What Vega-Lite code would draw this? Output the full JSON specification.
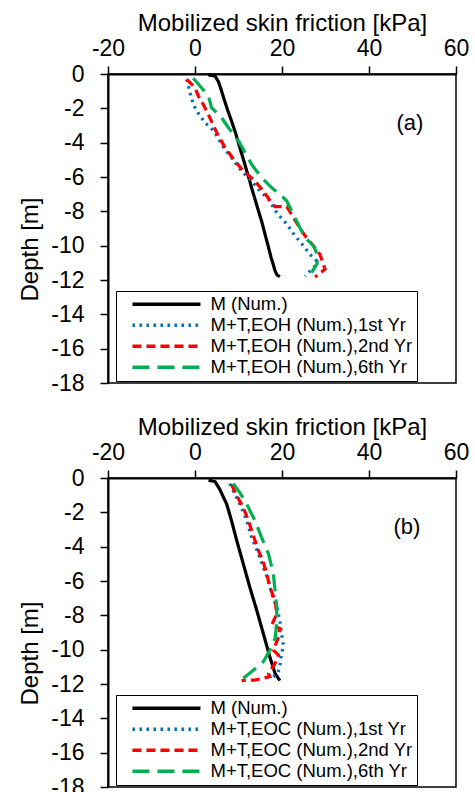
{
  "$schema": "https://vega.github.io/schema/vega-lite/v6.json",
  "padding": {"left": 18, "top": 10, "right": 5, "bottom": 0},
  "vconcat": [
    {
      "width": 348,
      "height": 309,
      "encoding": {
        "x": {"field": "x", "type": "quantitative", "scale": {"domain": [-20, 60], "nice": false, "zero": false},
          "axis": {"orient": "top", "values": [-20, 0, 20, 40, 60], "title": "Mobilized skin friction [kPa]", "tickSize": 8, "labelPadding": 6, "titlePadding": 2, "labelOverlap": false, "labelFlush": false, "grid": false, "labelExpr": "'' + datum.value"}},
        "y": {"field": "y", "type": "quantitative", "scale": {"domain": [-18, 0], "nice": false, "zero": false},
          "axis": {"orient": "left", "values": [-18, -16, -14, -12, -10, -8, -6, -4, -2, 0], "title": "Depth [m]", "titleY": 175, "tickSize": 8, "labelPadding": 16, "titlePadding": 8, "labelOverlap": false, "labelFlush": false, "grid": false, "labelExpr": "'' + datum.value"}}
      },
      "layer": [
        {
          "data": {"values": [{"x": -20}, {"x": -16}, {"x": -12}, {"x": -8}, {"x": -4}, {"x": 0}, {"x": 4}, {"x": 8}, {"x": 12}, {"x": 16}, {"x": 20}, {"x": 24}, {"x": 28}, {"x": 32}, {"x": 36}, {"x": 40}, {"x": 44}, {"x": 48}, {"x": 52}, {"x": 56}, {"x": 60}]},
          "mark": {"type": "rule", "color": "black", "strokeWidth": 1.5},
          "encoding": {"y": {"datum": 0}, "y2": {"datum": -0.35}}
        },
        {
          "data": {"values": [{"y": -18}, {"y": -17.5}, {"y": -17}, {"y": -16.5}, {"y": -16}, {"y": -15.5}, {"y": -15}, {"y": -14.5}, {"y": -14}, {"y": -13.5}, {"y": -13}, {"y": -12.5}, {"y": -12}, {"y": -11.5}, {"y": -11}, {"y": -10.5}, {"y": -10}, {"y": -9.5}, {"y": -9}, {"y": -8.5}, {"y": -8}, {"y": -7.5}, {"y": -7}, {"y": -6.5}, {"y": -6}, {"y": -5.5}, {"y": -5}, {"y": -4.5}, {"y": -4}, {"y": -3.5}, {"y": -3}, {"y": -2.5}, {"y": -2}, {"y": -1.5}, {"y": -1}, {"y": -0.5}, {"y": 0}]},
          "mark": {"type": "rule", "color": "black", "strokeWidth": 1.5},
          "encoding": {"x": {"datum": -20}, "x2": {"datum": -18.62}}
        },
        {
          "data": {"values": [
            {"s": "M (Num.)", "x": 3.0, "y": -0.05}, {"s": "M (Num.)", "x": 4.6, "y": -0.12}, {"s": "M (Num.)", "x": 5.4, "y": -0.45}, {"s": "M (Num.)", "x": 6.0, "y": -0.9}, {"s": "M (Num.)", "x": 6.6, "y": -1.4}, {"s": "M (Num.)", "x": 7.5, "y": -2.1}, {"s": "M (Num.)", "x": 8.4, "y": -2.74}, {"s": "M (Num.)", "x": 9.4, "y": -3.5}, {"s": "M (Num.)", "x": 10.3, "y": -4.29}, {"s": "M (Num.)", "x": 11.1, "y": -4.95}, {"s": "M (Num.)", "x": 11.9, "y": -5.65}, {"s": "M (Num.)", "x": 12.5, "y": -6.15}, {"s": "M (Num.)", "x": 13.0, "y": -6.62}, {"s": "M (Num.)", "x": 13.8, "y": -7.3}, {"s": "M (Num.)", "x": 14.6, "y": -7.98}, {"s": "M (Num.)", "x": 15.4, "y": -8.65}, {"s": "M (Num.)", "x": 16.1, "y": -9.34}, {"s": "M (Num.)", "x": 16.8, "y": -10.0}, {"s": "M (Num.)", "x": 17.5, "y": -10.7}, {"s": "M (Num.)", "x": 18.0, "y": -11.1}, {"s": "M (Num.)", "x": 18.4, "y": -11.47}, {"s": "M (Num.)", "x": 18.9, "y": -11.72}, {"s": "M (Num.)", "x": 19.5, "y": -11.8},
            {"s": "M+T,EOH (Num.),1st Yr", "x": -1.9, "y": -0.31}, {"s": "M+T,EOH (Num.),1st Yr", "x": -1.5, "y": -0.7}, {"s": "M+T,EOH (Num.),1st Yr", "x": -1.15, "y": -1.09}, {"s": "M+T,EOH (Num.),1st Yr", "x": -0.4, "y": -1.77}, {"s": "M+T,EOH (Num.),1st Yr", "x": 0.8, "y": -2.3}, {"s": "M+T,EOH (Num.),1st Yr", "x": 2.3, "y": -2.84}, {"s": "M+T,EOH (Num.),1st Yr", "x": 3.5, "y": -3.1}, {"s": "M+T,EOH (Num.),1st Yr", "x": 4.6, "y": -3.42}, {"s": "M+T,EOH (Num.),1st Yr", "x": 6.1, "y": -4.1}, {"s": "M+T,EOH (Num.),1st Yr", "x": 7.2, "y": -4.5}, {"s": "M+T,EOH (Num.),1st Yr", "x": 8.4, "y": -4.87}, {"s": "M+T,EOH (Num.),1st Yr", "x": 9.6, "y": -5.3}, {"s": "M+T,EOH (Num.),1st Yr", "x": 10.7, "y": -5.65}, {"s": "M+T,EOH (Num.),1st Yr", "x": 13.0, "y": -6.23}, {"s": "M+T,EOH (Num.),1st Yr", "x": 14.6, "y": -6.72}, {"s": "M+T,EOH (Num.),1st Yr", "x": 16.9, "y": -7.3}, {"s": "M+T,EOH (Num.),1st Yr", "x": 18.8, "y": -8.08}, {"s": "M+T,EOH (Num.),1st Yr", "x": 21.1, "y": -8.75}, {"s": "M+T,EOH (Num.),1st Yr", "x": 23.0, "y": -9.43}, {"s": "M+T,EOH (Num.),1st Yr", "x": 24.9, "y": -10.0}, {"s": "M+T,EOH (Num.),1st Yr", "x": 26.4, "y": -10.5}, {"s": "M+T,EOH (Num.),1st Yr", "x": 28.0, "y": -10.89}, {"s": "M+T,EOH (Num.),1st Yr", "x": 27.6, "y": -11.18}, {"s": "M+T,EOH (Num.),1st Yr", "x": 25.3, "y": -11.77},
            {"s": "M+T,EOH (Num.),2nd Yr", "x": -1.9, "y": -0.31}, {"s": "M+T,EOH (Num.),2nd Yr", "x": 0.0, "y": -0.8}, {"s": "M+T,EOH (Num.),2nd Yr", "x": 0.77, "y": -1.28}, {"s": "M+T,EOH (Num.),2nd Yr", "x": 1.9, "y": -1.77}, {"s": "M+T,EOH (Num.),2nd Yr", "x": 3.4, "y": -2.54}, {"s": "M+T,EOH (Num.),2nd Yr", "x": 5.0, "y": -3.42}, {"s": "M+T,EOH (Num.),2nd Yr", "x": 6.9, "y": -4.29}, {"s": "M+T,EOH (Num.),2nd Yr", "x": 9.2, "y": -5.07}, {"s": "M+T,EOH (Num.),2nd Yr", "x": 11.1, "y": -5.65}, {"s": "M+T,EOH (Num.),2nd Yr", "x": 13.4, "y": -6.13}, {"s": "M+T,EOH (Num.),2nd Yr", "x": 15.7, "y": -6.81}, {"s": "M+T,EOH (Num.),2nd Yr", "x": 17.6, "y": -7.5}, {"s": "M+T,EOH (Num.),2nd Yr", "x": 18.4, "y": -7.73}, {"s": "M+T,EOH (Num.),2nd Yr", "x": 21.1, "y": -7.73}, {"s": "M+T,EOH (Num.),2nd Yr", "x": 22.2, "y": -8.17}, {"s": "M+T,EOH (Num.),2nd Yr", "x": 23.8, "y": -8.85}, {"s": "M+T,EOH (Num.),2nd Yr", "x": 25.3, "y": -9.43}, {"s": "M+T,EOH (Num.),2nd Yr", "x": 27.2, "y": -10.0}, {"s": "M+T,EOH (Num.),2nd Yr", "x": 28.7, "y": -10.5}, {"s": "M+T,EOH (Num.),2nd Yr", "x": 29.9, "y": -11.37}, {"s": "M+T,EOH (Num.),2nd Yr", "x": 27.6, "y": -11.82},
            {"s": "M+T,EOH (Num.),6th Yr", "x": -0.4, "y": -0.25}, {"s": "M+T,EOH (Num.),6th Yr", "x": 1.15, "y": -0.7}, {"s": "M+T,EOH (Num.),6th Yr", "x": 3.1, "y": -1.28}, {"s": "M+T,EOH (Num.),6th Yr", "x": 3.8, "y": -1.96}, {"s": "M+T,EOH (Num.),6th Yr", "x": 6.1, "y": -2.54}, {"s": "M+T,EOH (Num.),6th Yr", "x": 7.7, "y": -3.13}, {"s": "M+T,EOH (Num.),6th Yr", "x": 10.0, "y": -3.9}, {"s": "M+T,EOH (Num.),6th Yr", "x": 11.1, "y": -4.39}, {"s": "M+T,EOH (Num.),6th Yr", "x": 13.0, "y": -5.26}, {"s": "M+T,EOH (Num.),6th Yr", "x": 15.3, "y": -6.04}, {"s": "M+T,EOH (Num.),6th Yr", "x": 17.6, "y": -6.62}, {"s": "M+T,EOH (Num.),6th Yr", "x": 19.5, "y": -7.0}, {"s": "M+T,EOH (Num.),6th Yr", "x": 21.1, "y": -7.4}, {"s": "M+T,EOH (Num.),6th Yr", "x": 22.6, "y": -8.17}, {"s": "M+T,EOH (Num.),6th Yr", "x": 24.1, "y": -8.95}, {"s": "M+T,EOH (Num.),6th Yr", "x": 25.3, "y": -9.53}, {"s": "M+T,EOH (Num.),6th Yr", "x": 27.2, "y": -10.0}, {"s": "M+T,EOH (Num.),6th Yr", "x": 28.3, "y": -10.6}, {"s": "M+T,EOH (Num.),6th Yr", "x": 28.0, "y": -11.08}, {"s": "M+T,EOH (Num.),6th Yr", "x": 26.8, "y": -11.57}
          ]},
          "mark": {"type": "line", "strokeWidth": 3.2},
          "encoding": {
            "color": {"field": "s", "type": "nominal", "sort": null,
              "scale": {"domain": ["M (Num.)", "M+T,EOH (Num.),1st Yr", "M+T,EOH (Num.),2nd Yr", "M+T,EOH (Num.),6th Yr"], "range": ["#000000", "#0070C0", "#FF0000", "#00B050"]},
              "legend": {"title": null, "orient": "none", "legendX": 8, "legendY": 217}},
            "strokeDash": {"field": "s", "type": "nominal", "sort": null,
              "scale": {"domain": ["M (Num.)", "M+T,EOH (Num.),1st Yr", "M+T,EOH (Num.),2nd Yr", "M+T,EOH (Num.),6th Yr"], "range": [[1, 0], [2.5, 4.5], [9, 5], [17, 8]]},
              "legend": {"title": null, "orient": "none", "legendX": 8, "legendY": 217}},
            "order": {"value": null}
          }
        },
        {
          "data": {"values": [{"x": 49.4, "y": -2.85, "t": "(a)"}]},
          "mark": {"type": "text", "fontSize": 22, "font": "Liberation Sans", "color": "black"},
          "encoding": {"text": {"field": "t"}}
        }
      ]
    },
    {
      "width": 348,
      "height": 309,
      "encoding": {
        "x": {"field": "x", "type": "quantitative", "scale": {"domain": [-20, 60], "nice": false, "zero": false},
          "axis": {"orient": "top", "values": [-20, 0, 20, 40, 60], "title": "Mobilized skin friction [kPa]", "tickSize": 8, "labelPadding": 6, "titlePadding": 2, "labelOverlap": false, "labelFlush": false, "grid": false, "labelExpr": "'' + datum.value"}},
        "y": {"field": "y", "type": "quantitative", "scale": {"domain": [-18, 0], "nice": false, "zero": false},
          "axis": {"orient": "left", "values": [-18, -16, -14, -12, -10, -8, -6, -4, -2, 0], "title": "Depth [m]", "titleY": 175, "tickSize": 8, "labelPadding": 16, "titlePadding": 8, "labelOverlap": false, "labelFlush": false, "grid": false, "labelExpr": "'' + datum.value"}}
      },
      "layer": [
        {
          "data": {"values": [{"x": -20}, {"x": -16}, {"x": -12}, {"x": -8}, {"x": -4}, {"x": 0}, {"x": 4}, {"x": 8}, {"x": 12}, {"x": 16}, {"x": 20}, {"x": 24}, {"x": 28}, {"x": 32}, {"x": 36}, {"x": 40}, {"x": 44}, {"x": 48}, {"x": 52}, {"x": 56}, {"x": 60}]},
          "mark": {"type": "rule", "color": "black", "strokeWidth": 1.5},
          "encoding": {"y": {"datum": 0}, "y2": {"datum": -0.35}}
        },
        {
          "data": {"values": [{"y": -18}, {"y": -17.5}, {"y": -17}, {"y": -16.5}, {"y": -16}, {"y": -15.5}, {"y": -15}, {"y": -14.5}, {"y": -14}, {"y": -13.5}, {"y": -13}, {"y": -12.5}, {"y": -12}, {"y": -11.5}, {"y": -11}, {"y": -10.5}, {"y": -10}, {"y": -9.5}, {"y": -9}, {"y": -8.5}, {"y": -8}, {"y": -7.5}, {"y": -7}, {"y": -6.5}, {"y": -6}, {"y": -5.5}, {"y": -5}, {"y": -4.5}, {"y": -4}, {"y": -3.5}, {"y": -3}, {"y": -2.5}, {"y": -2}, {"y": -1.5}, {"y": -1}, {"y": -0.5}, {"y": 0}]},
          "mark": {"type": "rule", "color": "black", "strokeWidth": 1.5},
          "encoding": {"x": {"datum": -20}, "x2": {"datum": -18.62}}
        },
        {
          "data": {"values": [
            {"s": "M (Num.)", "x": 3.1, "y": -0.13}, {"s": "M (Num.)", "x": 4.6, "y": -0.21}, {"s": "M (Num.)", "x": 5.7, "y": -0.66}, {"s": "M (Num.)", "x": 6.5, "y": -1.1}, {"s": "M (Num.)", "x": 7.3, "y": -1.53}, {"s": "M (Num.)", "x": 8.4, "y": -2.49}, {"s": "M (Num.)", "x": 9.6, "y": -3.65}, {"s": "M (Num.)", "x": 11.1, "y": -5.0}, {"s": "M (Num.)", "x": 12.6, "y": -6.36}, {"s": "M (Num.)", "x": 14.2, "y": -7.71}, {"s": "M (Num.)", "x": 15.7, "y": -9.06}, {"s": "M (Num.)", "x": 17.2, "y": -10.42}, {"s": "M (Num.)", "x": 18.4, "y": -11.38}, {"s": "M (Num.)", "x": 19.5, "y": -11.8},
            {"s": "M+T,EOC (Num.),1st Yr", "x": 8.0, "y": -0.33}, {"s": "M+T,EOC (Num.),1st Yr", "x": 9.2, "y": -0.95}, {"s": "M+T,EOC (Num.),1st Yr", "x": 10.7, "y": -1.72}, {"s": "M+T,EOC (Num.),1st Yr", "x": 11.9, "y": -2.49}, {"s": "M+T,EOC (Num.),1st Yr", "x": 13.0, "y": -3.46}, {"s": "M+T,EOC (Num.),1st Yr", "x": 14.6, "y": -4.42}, {"s": "M+T,EOC (Num.),1st Yr", "x": 15.7, "y": -5.2}, {"s": "M+T,EOC (Num.),1st Yr", "x": 16.9, "y": -5.97}, {"s": "M+T,EOC (Num.),1st Yr", "x": 17.6, "y": -6.74}, {"s": "M+T,EOC (Num.),1st Yr", "x": 18.8, "y": -7.52}, {"s": "M+T,EOC (Num.),1st Yr", "x": 19.5, "y": -8.29}, {"s": "M+T,EOC (Num.),1st Yr", "x": 19.9, "y": -9.06}, {"s": "M+T,EOC (Num.),1st Yr", "x": 20.3, "y": -9.74}, {"s": "M+T,EOC (Num.),1st Yr", "x": 19.8, "y": -10.42}, {"s": "M+T,EOC (Num.),1st Yr", "x": 19.5, "y": -11.0}, {"s": "M+T,EOC (Num.),1st Yr", "x": 19.0, "y": -11.38}, {"s": "M+T,EOC (Num.),1st Yr", "x": 17.6, "y": -11.67},
            {"s": "M+T,EOC (Num.),2nd Yr", "x": 8.4, "y": -0.37}, {"s": "M+T,EOC (Num.),2nd Yr", "x": 9.6, "y": -1.04}, {"s": "M+T,EOC (Num.),2nd Yr", "x": 11.1, "y": -1.72}, {"s": "M+T,EOC (Num.),2nd Yr", "x": 12.3, "y": -2.49}, {"s": "M+T,EOC (Num.),2nd Yr", "x": 13.4, "y": -3.36}, {"s": "M+T,EOC (Num.),2nd Yr", "x": 14.6, "y": -4.23}, {"s": "M+T,EOC (Num.),2nd Yr", "x": 15.7, "y": -4.91}, {"s": "M+T,EOC (Num.),2nd Yr", "x": 16.5, "y": -5.58}, {"s": "M+T,EOC (Num.),2nd Yr", "x": 17.2, "y": -6.36}, {"s": "M+T,EOC (Num.),2nd Yr", "x": 18.4, "y": -7.13}, {"s": "M+T,EOC (Num.),2nd Yr", "x": 18.8, "y": -7.9}, {"s": "M+T,EOC (Num.),2nd Yr", "x": 17.6, "y": -8.58}, {"s": "M+T,EOC (Num.),2nd Yr", "x": 19.5, "y": -8.77}, {"s": "M+T,EOC (Num.),2nd Yr", "x": 19.2, "y": -9.26}, {"s": "M+T,EOC (Num.),2nd Yr", "x": 18.0, "y": -10.03}, {"s": "M+T,EOC (Num.),2nd Yr", "x": 19.2, "y": -10.32}, {"s": "M+T,EOC (Num.),2nd Yr", "x": 18.4, "y": -10.8}, {"s": "M+T,EOC (Num.),2nd Yr", "x": 16.9, "y": -11.38}, {"s": "M+T,EOC (Num.),2nd Yr", "x": 17.2, "y": -11.57}, {"s": "M+T,EOC (Num.),2nd Yr", "x": 13.8, "y": -11.77}, {"s": "M+T,EOC (Num.),2nd Yr", "x": 10.7, "y": -11.8},
            {"s": "M+T,EOC (Num.),6th Yr", "x": 8.8, "y": -0.33}, {"s": "M+T,EOC (Num.),6th Yr", "x": 10.3, "y": -0.85}, {"s": "M+T,EOC (Num.),6th Yr", "x": 11.9, "y": -1.53}, {"s": "M+T,EOC (Num.),6th Yr", "x": 13.8, "y": -2.49}, {"s": "M+T,EOC (Num.),6th Yr", "x": 15.3, "y": -3.46}, {"s": "M+T,EOC (Num.),6th Yr", "x": 16.9, "y": -4.42}, {"s": "M+T,EOC (Num.),6th Yr", "x": 18.0, "y": -5.58}, {"s": "M+T,EOC (Num.),6th Yr", "x": 18.4, "y": -6.55}, {"s": "M+T,EOC (Num.),6th Yr", "x": 18.8, "y": -7.52}, {"s": "M+T,EOC (Num.),6th Yr", "x": 18.8, "y": -8.48}, {"s": "M+T,EOC (Num.),6th Yr", "x": 18.4, "y": -9.35}, {"s": "M+T,EOC (Num.),6th Yr", "x": 17.2, "y": -10.03}, {"s": "M+T,EOC (Num.),6th Yr", "x": 15.7, "y": -10.7}, {"s": "M+T,EOC (Num.),6th Yr", "x": 13.0, "y": -11.28}, {"s": "M+T,EOC (Num.),6th Yr", "x": 11.1, "y": -11.67}
          ]},
          "mark": {"type": "line", "strokeWidth": 3.2},
          "encoding": {
            "color": {"field": "s", "type": "nominal", "sort": null,
              "scale": {"domain": ["M (Num.)", "M+T,EOC (Num.),1st Yr", "M+T,EOC (Num.),2nd Yr", "M+T,EOC (Num.),6th Yr"], "range": ["#000000", "#0070C0", "#FF0000", "#00B050"]},
              "legend": {"title": null, "orient": "none", "legendX": 8, "legendY": 217}},
            "strokeDash": {"field": "s", "type": "nominal", "sort": null,
              "scale": {"domain": ["M (Num.)", "M+T,EOC (Num.),1st Yr", "M+T,EOC (Num.),2nd Yr", "M+T,EOC (Num.),6th Yr"], "range": [[1, 0], [2.5, 4.5], [9, 5], [17, 8]]},
              "legend": {"title": null, "orient": "none", "legendX": 8, "legendY": 217}},
            "order": {"value": null}
          }
        },
        {
          "data": {"values": [{"x": 48.7, "y": -2.88, "t": "(b)"}]},
          "mark": {"type": "text", "fontSize": 22, "font": "Liberation Sans", "color": "black"},
          "encoding": {"text": {"field": "t"}}
        }
      ]
    }
  ],
  "spacing": 95,
  "bounds": "flush",
  "resolve": {"scale": {"color": "independent", "strokeDash": "independent"}, "legend": {"color": "independent", "strokeDash": "independent"}},
  "config": {
    "font": "Liberation Sans",
    "view": {"stroke": "black", "strokeWidth": 1.5},
    "axis": {"domainColor": "black", "domainWidth": 2, "tickColor": "black", "tickWidth": 1.5, "labelColor": "black", "titleColor": "black", "labelFontSize": 23, "titleFontSize": 24, "titleFontWeight": "normal", "labelFont": "Liberation Sans", "titleFont": "Liberation Sans"},
    "legend": {"labelFontSize": 18.5, "labelFont": "Liberation Sans", "labelColor": "black", "symbolType": "M-1,0H9", "symbolSize": 185, "symbolStrokeWidth": 3.5, "symbolOffset": 10, "labelOffset": 62, "padding": 4, "rowPadding": 2, "strokeColor": "black", "fillColor": "white", "labelLimit": 400}
  }
}
